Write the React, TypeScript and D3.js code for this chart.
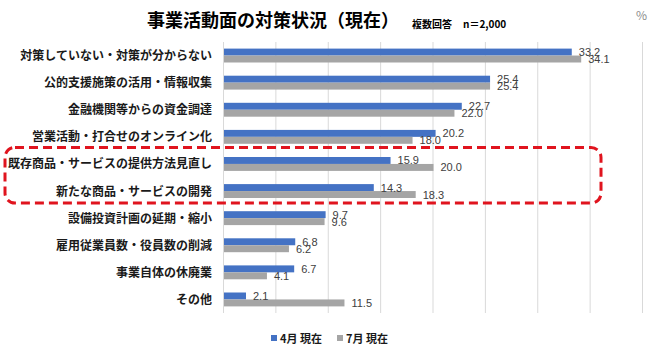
import { useRef, useEffect } from "react";
import * as d3 from "d3";

const categories = [
  "対策していない・対策が分からない",
  "公的支援施策の活用・情報収集",
  "金融機関等からの資金調達",
  "営業活動・打合せのオンライン化",
  "既存商品・サービスの提供方法見直し",
  "新たな商品・サービスの開発",
  "設備投資計画の延期・縮小",
  "雇用従業員数・役員数の削減",
  "事業自体の休廃業",
  "その他",
];

const seriesNames = ["4月 現在", "7月 現在"];
const april = [33.2, 25.4, 22.7, 20.2, 15.9, 14.3, 9.7, 6.8, 6.7, 2.1];
const july = [34.1, 25.4, 22.0, 18.0, 20.0, 18.3, 9.6, 6.2, 4.1, 11.5];
const xTicks = [0, 5, 10, 15, 20, 25, 30, 35, 40];
const highlighted = ["既存商品・サービスの提供方法見直し", "新たな商品・サービスの開発"];

const COLORS = ["#4472C4", "#A5A5A5"];
const JP = "'Noto Sans CJK JP', 'Noto Sans', sans-serif";

export default function App() {
  const svgRef = useRef<SVGSVGElement>(null);

  useEffect(() => {
    if (!svgRef.current) return;
    const width = 657;
    const height = 352;
    const margin = { top: 42, right: 15, bottom: 39, left: 223 };

    const svg = d3.select(svgRef.current).attr("width", width).attr("height", height);
    svg.selectAll("*").remove();

    const x = d3
      .scaleLinear()
      .domain([0, 40])
      .range([margin.left, width - margin.right]);

    const y = d3
      .scaleBand<string>()
      .domain(categories)
      .range([margin.top, height - margin.bottom]);

    const inner = d3
      .scaleBand<string>()
      .domain(seriesNames)
      .range([0, y.bandwidth()])
      .paddingOuter(0.95)
      .paddingInner(0);

    // Title
    svg
      .append("text")
      .attr("x", 147)
      .attr("y", 27)
      .attr("font-family", JP)
      .attr("font-size", 18)
      .attr("font-weight", 700)
      .attr("fill", "#000")
      .text("事業活動面の対策状況（現在）");
    svg
      .append("text")
      .attr("x", 412)
      .attr("y", 28)
      .attr("font-family", JP)
      .attr("font-size", 10)
      .attr("font-weight", 700)
      .attr("fill", "#000")
      .text("複数回答");
    svg
      .append("text")
      .attr("x", 463)
      .attr("y", 28)
      .attr("font-family", JP)
      .attr("font-size", 10)
      .attr("font-weight", 700)
      .attr("fill", "#000")
      .text("n＝2,000");
    svg
      .append("text")
      .attr("x", 636)
      .attr("y", 20)
      .attr("font-family", JP)
      .attr("font-size", 12)
      .attr("fill", "#8c8c8c")
      .text("%");

    // Grid
    svg
      .append("g")
      .selectAll("line")
      .data(xTicks)
      .join("line")
      .attr("x1", (d) => x(d) + 0.5)
      .attr("x2", (d) => x(d) + 0.5)
      .attr("y1", margin.top)
      .attr("y2", height - margin.bottom)
      .attr("stroke", "#d9d9d9")
      .attr("stroke-width", 1);

    // Category labels
    svg
      .append("g")
      .selectAll("text")
      .data(categories)
      .join("text")
      .attr("x", margin.left - 11)
      .attr("y", (d) => y(d)! + y.bandwidth() / 2 - 1)
      .attr("text-anchor", "end")
      .attr("dominant-baseline", "central")
      .attr("font-family", JP)
      .attr("font-size", 12)
      .attr("font-weight", 700)
      .attr("fill", "#1a1a1a")
      .text((d) => d);

    const rows = categories.map((c, i) => ({ cat: c, vals: [april[i], july[i]] }));

    const groups = svg
      .append("g")
      .selectAll("g")
      .data(rows)
      .join("g")
      .attr("transform", (d) => `translate(0,${y(d.cat)})`);

    groups
      .selectAll("rect")
      .data((d) => d.vals.map((v, k) => ({ v, k })))
      .join("rect")
      .attr("x", x(0) + 1)
      .attr("y", (d) => inner(seriesNames[d.k])!)
      .attr("width", (d) => x(d.v) - x(0))
      .attr("height", inner.bandwidth())
      .attr("fill", (d) => COLORS[d.k]);

    groups
      .selectAll("text")
      .data((d) => d.vals.map((v, k) => ({ v, k })))
      .join("text")
      .attr("x", (d) => x(d.v) + 8)
      .attr("y", (d) => inner(seriesNames[d.k])! + inner.bandwidth() / 2)
      .attr("dominant-baseline", "central")
      .attr("font-family", "'Liberation Sans', Arial, sans-serif")
      .attr("font-size", 11)
      .attr("fill", "#404040")
      .text((d) => d.v.toFixed(1));

    // Highlight box
    const top = y(highlighted[0])! - 3;
    const bottom = y(highlighted[1])! + y.bandwidth() - 1.5;
    svg
      .append("rect")
      .attr("x", 5)
      .attr("y", top)
      .attr("width", 596)
      .attr("height", bottom - top)
      .attr("rx", 10)
      .attr("fill", "none")
      .attr("stroke", "#e0141e")
      .attr("stroke-width", 3)
      .attr("stroke-dasharray", "9,5");

    // Legend
    const legend = svg
      .append("g")
      .selectAll("g")
      .data(seriesNames)
      .join("g")
      .attr("transform", (_, i) => `translate(${271 + i * 66},338)`);
    legend
      .append("rect")
      .attr("x", 0)
      .attr("y", -3)
      .attr("width", 6)
      .attr("height", 6)
      .attr("fill", (_, i) => COLORS[i]);
    legend
      .append("text")
      .attr("x", 9)
      .attr("y", 0)
      .attr("dominant-baseline", "central")
      .attr("font-family", JP)
      .attr("font-size", 11)
      .attr("font-weight", 700)
      .attr("fill", "#1a1a1a")
      .text((d) => d);
  }, []);

  return (
    <div style={{ position: "absolute", left: 0, top: 0, background: "#fff" }}>
      <svg ref={svgRef} />
    </div>
  );
}
